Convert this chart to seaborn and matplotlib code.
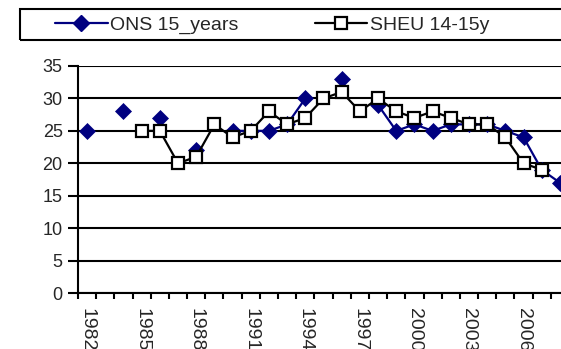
import numpy as np
import pandas as pd
import matplotlib
matplotlib.use("Agg")
import matplotlib.pyplot as plt
from matplotlib.lines import Line2D
from matplotlib.patches import Rectangle
from matplotlib.ticker import FixedLocator, NullFormatter
import seaborn as sns

years = list(range(1982, 2009))
ons_15_years = [25, np.nan, 28, np.nan, 27, np.nan, 22, np.nan, 25, 25,
                25, 26, 30, np.nan, 33, np.nan, 29, 25, 26, 25,
                26, 26, 26, 25, 24, 19, 17]
sheu_14_15y = [np.nan, np.nan, np.nan, 25, 25, 20, 21, 26, 24, 25,
               28, 26, 27, 30, 31, 28, 30, 28, 27, 28,
               27, 26, 26, 24, 20, 19, np.nan]
label_years = [1982, 1985, 1988, 1991, 1994, 1997, 2000, 2003, 2006]

sns.set_style("white")
plt.rcParams["font.family"] = ["Liberation Sans", "DejaVu Sans"]

W, H = 561, 349
fig = plt.figure(figsize=(W / 100, H / 100), dpi=100)
ax = fig.add_axes([78 / W, 56 / H, 491 / W, (293 - 66) / H])

df = pd.DataFrame({"year": years, "ONS": ons_15_years, "SHEU": sheu_14_15y})


def segments(col):
    """Split a series into runs of consecutive valid values."""
    d = df[["year", col]].copy()
    d["seg"] = d[col].isna().cumsum()
    d = d.dropna()
    return [g for _, g in d.groupby("seg")]


navy = "#000080"
for seg in segments("ONS"):
    sns.lineplot(data=seg, x="year", y="ONS", ax=ax, color=navy, lw=1.6,
                 marker="D", markersize=8.5, markerfacecolor=navy,
                 markeredgecolor=navy, markeredgewidth=0.5, zorder=3,
                 estimator=None)
for seg in segments("SHEU"):
    sns.lineplot(data=seg, x="year", y="SHEU", ax=ax, color="black", lw=1.6,
                 marker="s", markersize=9, markerfacecolor="white",
                 markeredgecolor="black", markeredgewidth=1.6, zorder=4,
                 estimator=None)

ax.set_xlim(1981.5, 2008.5)
ax.set_ylim(0, 35)
ax.set_yticks(range(0, 36, 5))
ax.yaxis.grid(True, color="black", lw=1.5)
ax.xaxis.grid(False)
ax.set_xlabel("")
ax.set_ylabel("")

ax.set_xticks(label_years)
ax.set_xticklabels([str(y) for y in label_years], rotation=-90, fontsize=14)
ax.xaxis.set_minor_locator(FixedLocator(np.arange(1981.5, 2009, 1.0)))
ax.xaxis.set_minor_formatter(NullFormatter())
ax.tick_params(axis="x", which="major", length=0, pad=10.5)
ax.tick_params(axis="x", which="minor", length=4, width=1.5, color="black",
               direction="out", bottom=True)
ax.tick_params(axis="y", which="major", length=7, width=1.5, color="black",
               direction="out", left=True, pad=4, labelsize=13)

for side in ["top", "right"]:
    ax.spines[side].set_visible(False)
for side in ["left", "bottom"]:
    ax.spines[side].set_color("black")
    ax.spines[side].set_linewidth(1.5)
    ax.spines[side].set_zorder(5)

# Legend entries, with a separate wide frame running off the right edge
handles = [
    Line2D([], [], color=navy, lw=1.6, marker="D", markersize=8.5,
           markerfacecolor=navy, markeredgecolor=navy),
    Line2D([], [], color="black", lw=1.6, marker="s", markersize=9,
           markerfacecolor="white", markeredgecolor="black",
           markeredgewidth=1.6),
]
leg = fig.legend(handles, ["ONS 15_years", "SHEU 14-15y"], ncol=2,
                 loc="center left", bbox_to_anchor=(55 / W, 1 - 25 / H),
                 frameon=False, fontsize=14,
                 handlelength=2.7, handletextpad=0.15, columnspacing=3.9,
                 borderpad=0.0, borderaxespad=0)
fig.patches.append(Rectangle((20 / W, 1 - 40 / H), 580 / W, 31 / H,
                             transform=fig.transFigure, fill=False,
                             edgecolor="black", lw=1.5))

fig.savefig("out.png", dpi=100)
